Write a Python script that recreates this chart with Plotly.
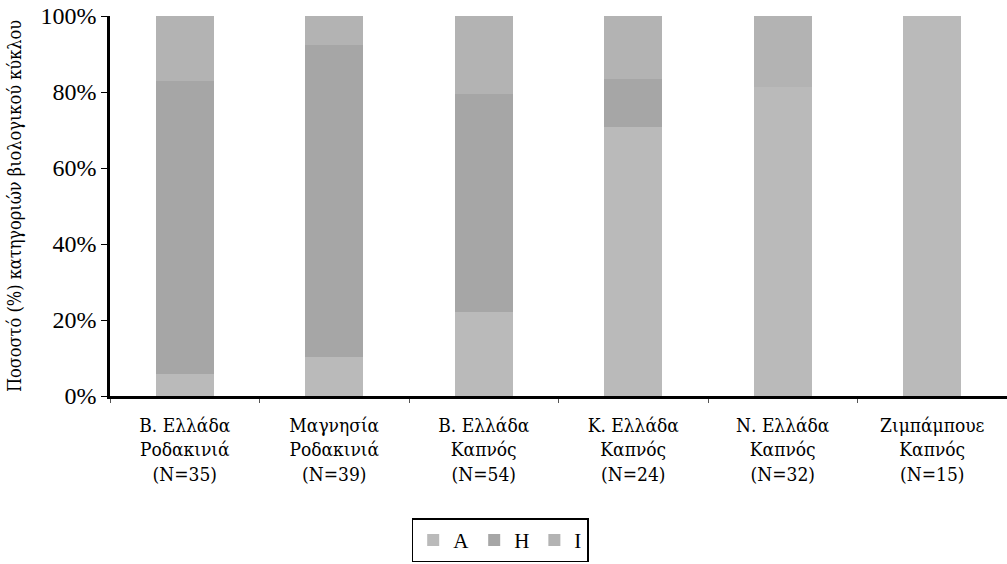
import plotly.graph_objects as go

categories = [
    "Β. Ελλάδα<br>Ροδακινιά<br>(N=35)",
    "Μαγνησία<br>Ροδακινιά<br>(N=39)",
    "Β. Ελλάδα<br>Καπνός<br>(N=54)",
    "Κ. Ελλάδα<br>Καπνός<br>(N=24)",
    "Ν. Ελλάδα<br>Καπνός<br>(N=32)",
    "Ζιμπάμπουε<br>Καπνός<br>(N=15)",
]
A = [5.7, 10.3, 22.2, 70.8, 81.25, 100.0]
H = [77.1, 82.1, 57.4, 12.5, 0.0, 0.0]
I = [17.2, 7.6, 20.4, 16.7, 18.75, 0.0]

series = [("A", A, "#bababa"), ("H", H, "#a6a6a6"), ("I", I, "#b3b3b3")]

fig = go.Figure()
for name, vals, col in series:
    fig.add_trace(go.Bar(x=categories, y=vals, name=name, marker_color=col,
                         marker_line_width=0, width=0.39))

serif = "Liberation Serif"
greek = "DejaVu Serif Condensed, DejaVu Serif"
fig.update_layout(
    barmode="stack",
    width=1007, height=564,
    margin=dict(l=110, r=0, t=16, b=168, autoexpand=False),
    plot_bgcolor="white", paper_bgcolor="white",
    font=dict(family=serif, color="black"),
    showlegend=True,
    legend=dict(orientation="h", x=0.435, xanchor="center", y=-0.322, yanchor="top",
                font=dict(family=serif, size=21, color="black"),
                bordercolor="black", borderwidth=1.5, bgcolor="white",
                itemwidth=30, traceorder="normal", tracegroupgap=0),
    xaxis=dict(showline=True, linecolor="black", linewidth=2.5, ticks="outside",
               tickson="boundaries", ticklen=4, tickcolor="#555",
               tickfont=dict(size=19, family=greek), automargin=False,
               ticklabelstandoff=10, showgrid=False),
    yaxis=dict(range=[0, 100], tickvals=[0, 20, 40, 60, 80, 100],
               ticktext=["0%", "20%", "40%", "60%", "80%", "100%"],
               showline=True, linecolor="black", linewidth=2.5, ticks="outside",
               ticklen=6, tickcolor="black", tickfont=dict(size=24, family=serif),
               ticklabeloverflow="allow",
               showgrid=False, zeroline=False, automargin=False,
               title=dict(text="Ποσοστό (%) κατηγοριών βιολογικού κύκλου",
                          font=dict(size=18, family=greek), standoff=15)),
)
fig.write_html("out.html", config={"displayModeBar": False},
               post_script="document.body.style.margin='0';")
